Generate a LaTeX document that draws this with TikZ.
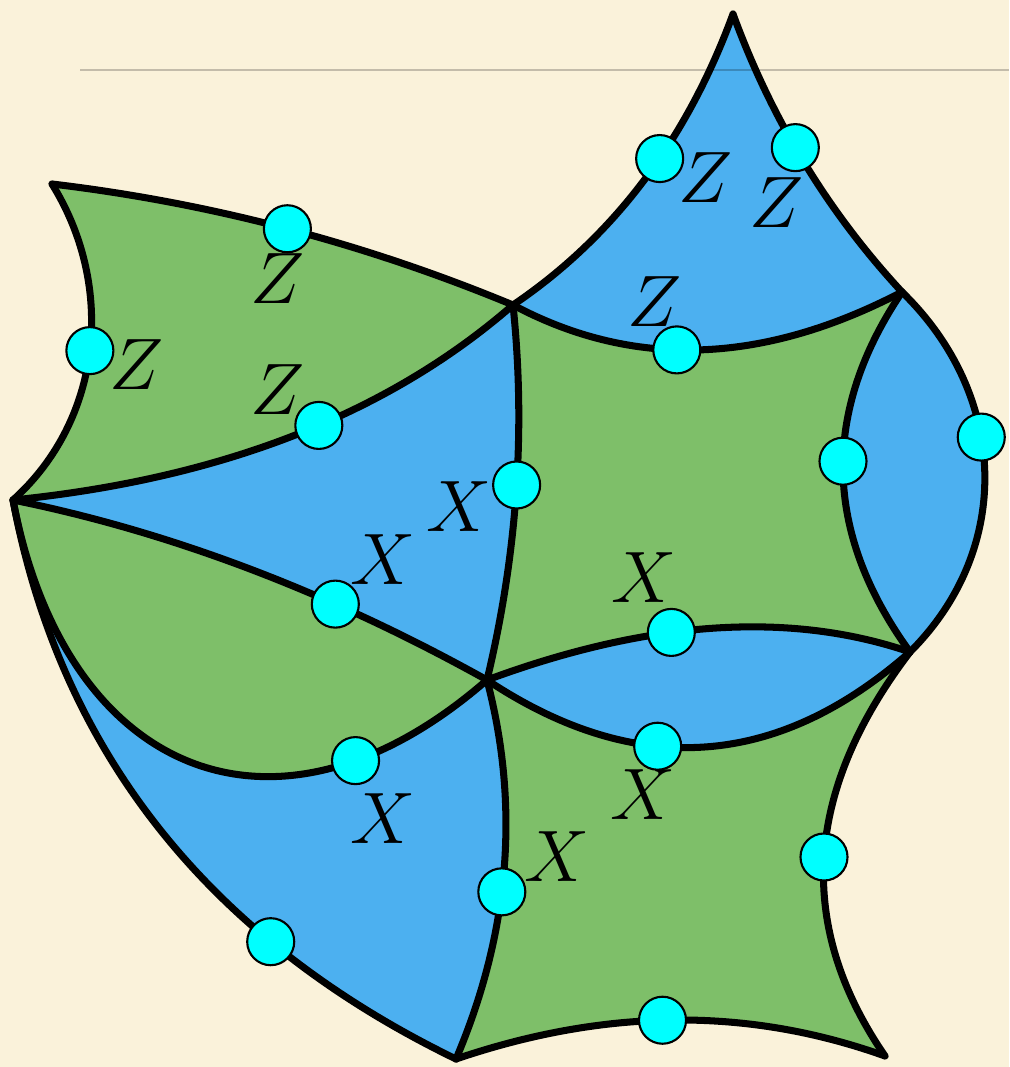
\documentclass[tikz,border=0pt]{standalone}
\usepackage{tikz}
\usetikzlibrary{calc}
\definecolor{PaperBg}{HTML}{FAF2DA}
\definecolor{PatchGreen}{HTML}{7EBF69}
\definecolor{PatchBlue}{HTML}{4CB0F0}
\definecolor{DotCyan}{HTML}{00FFFF}

\begin{document}
\begin{tikzpicture}[x=0.01cm, y=-0.01cm,
  edge/.style={draw=black, line width=2pt, line cap=round},
  dot/.style={circle, draw=black, fill=DotCyan, line width=0.6pt, minimum size=0.47cm, inner sep=0pt},
  lab/.style={font=\fontsize{21}{25}\selectfont, inner sep=0pt}]
\fill[PaperBg] (0,0) rectangle (1009,1067);
\useasboundingbox (0,0) rectangle (1009,1067);
% corners of the patches
\coordinate (tl) at (52,184);
\coordinate (hub) at (513,305);
\coordinate (tip) at (733,14);
\coordinate (rt) at (902,292);
\coordinate (lf) at (13,500);
\coordinate (mid) at (487,680);
\coordinate (rr) at (910,652);
\coordinate (bot) at (456,1059);
\coordinate (br) at (885,1056);
% blue silhouette first, green patches on top
\fill[PatchBlue] (tl) .. controls (212,203) and (366,244) .. (hub)
  .. controls (612,238) and (686,142) .. (tip)
  .. controls (771,118) and (827,211) .. (rt)
  .. controls (1008,395) and (1014,548) .. (rr)
  .. controls (804,791) and (795,925) .. (br)
  .. controls (748,1007) and (606,1008) .. (bot)
  .. controls (213,941) and (61,756) .. (lf)
  .. controls (102,420) and (116,287) .. (tl) -- cycle;
\fill[PatchGreen] (tl) .. controls (212,203) and (366,244) .. (hub)
  .. controls (388,414) and (221,479) .. (lf)
  .. controls (102,420) and (116,287) .. (tl) -- cycle;
\fill[PatchGreen] (hub) .. controls (633,369) and (762,365) .. (rt)
  .. controls (821,412) and (823,532) .. (rr)
  .. controls (790,611) and (649,620) .. (mid)
  .. controls (517,555) and (526,430) .. (hub) -- cycle;
\fill[PatchGreen] (lf) .. controls (171,532) and (329,592) .. (mid)
  .. controls (276,864) and (65,775) .. (lf) -- cycle;
\fill[PatchGreen] (mid) .. controls (636,779) and (777,769) .. (rr)
  .. controls (804,791) and (795,925) .. (br)
  .. controls (748,1007) and (606,1008) .. (bot)
  .. controls (510,932) and (520,806) .. (mid) -- cycle;
% edges with their dots
\draw[edge] (tl) .. controls (212,203) and (366,244) .. (hub) node[dot, pos=0.5] (d1) {};
\draw[edge] (tl) .. controls (116,287) and (102,420) .. (lf) node[dot, pos=0.5] (d2) {};
\draw[edge] (lf) .. controls (221,479) and (388,414) .. (hub) node[dot, pos=0.55] (d3) {};
\draw[edge] (hub) .. controls (612,238) and (686,142) .. (tip) node[dot, pos=0.58] (d4) {};
\draw[edge] (tip) .. controls (771,118) and (827,211) .. (rt) node[dot, pos=0.45] (d5) {};
\draw[edge] (hub) .. controls (633,369) and (762,365) .. (rt) node[dot, pos=0.44] (d6) {};
\draw[edge] (rt) .. controls (1008,395) and (1014,548) .. (rr) node[dot, pos=0.41] (d7) {};
\draw[edge] (rt) .. controls (821,412) and (823,532) .. (rr) node[dot, pos=0.47] (d8) {};
\draw[edge] (hub) .. controls (526,430) and (517,555) .. (mid) node[dot, pos=0.48] (d9) {};
\draw[edge] (lf) .. controls (171,532) and (329,592) .. (mid) node[dot, pos=0.68] (d10) {};
\draw[edge] (mid) .. controls (649,620) and (790,611) .. (rr) node[dot, pos=0.4] (d11) {};
\draw[edge] (mid) .. controls (636,779) and (777,769) .. (rr) node[dot, pos=0.39] (d12) {};
\draw[edge] (lf) .. controls (65,775) and (276,864) .. (mid) node[dot, pos=0.79] (d13) {};
\draw[edge] (lf) .. controls (61,756) and (213,941) .. (bot) node[dot, pos=0.715] (d14) {};
\draw[edge] (mid) .. controls (520,806) and (510,932) .. (bot) node[dot, pos=0.56] (d15) {};
\draw[edge] (rr) .. controls (804,791) and (795,925) .. (br) node[dot, pos=0.5] (d16) {};
\draw[edge] (bot) .. controls (606,1008) and (748,1007) .. (br) node[dot, pos=0.47] (d17) {};
% labels
\node[lab] (z1) at (278,279) {$Z$};
\node[lab] (z2) at (137,365) {$Z$};
\node[lab] (z3) at (278,390) {$Z$};
\node[lab] (z4) at (706,178) {$Z$};
\node[lab] (z5) at (777,203) {$Z$};
\node[lab] (z6) at (655,302) {$Z$};
\node[lab] (x1) at (459,507) {$X$};
\node[lab] (x2) at (383,560) {$X$};
\node[lab] (x3) at (644,578) {$X$};
\node[lab] (x4) at (643,795) {$X$};
\node[lab] (x5) at (383,819) {$X$};
\node[lab] (x6) at (557,857) {$X$};
% faint rule across the top
\draw[black, opacity=0.22, line width=0.8pt] (80,70) -- (1009,70);
\end{tikzpicture}
\end{document}
